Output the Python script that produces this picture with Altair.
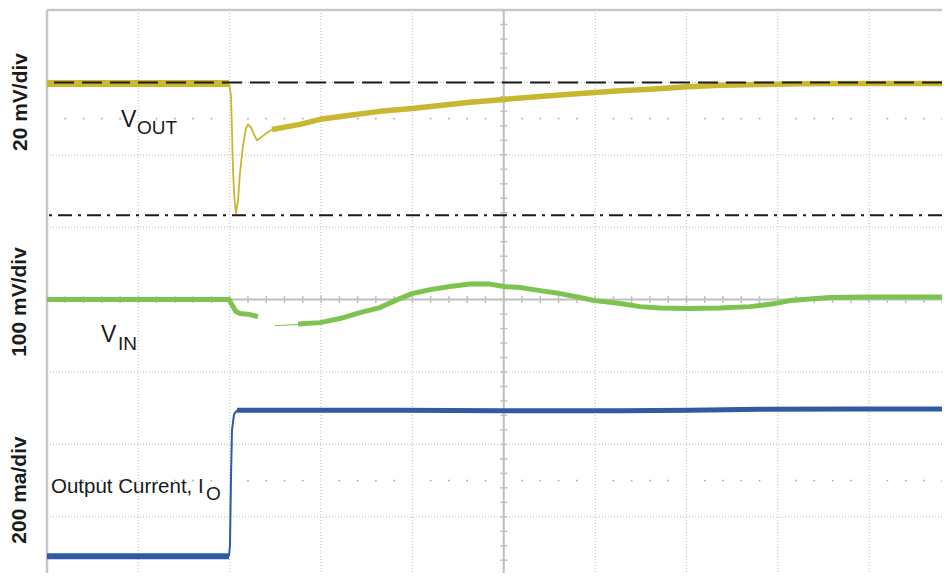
import altair as alt
import numpy as np
import pandas as pd

# ---------------- data (time axis in screen divisions, 10 div full scale) -------------
# V_OUT deviation in mV (20 mV/div)
vout_pre_t = [0.0, 1.992]
vout_pre_mv = [-0.3, -0.3]
vout_tr_t = [1.992, 2.014, 2.025, 2.036, 2.053, 2.069, 2.091, 2.113, 2.146, 2.178,
             2.200, 2.233, 2.266, 2.299, 2.343, 2.397, 2.463]
vout_tr_mv = [-0.3, -3.6, -13.3, -24.3, -32.6, -36.2, -32.6, -24.9, -17.4, -12.7,
              -11.6, -12.4, -14.4, -16.0, -15.2, -14.1, -13.0]
vout_set_t = [2.463, 2.770, 2.989, 3.317, 3.645, 3.996, 4.302, 4.630, 5.003, 5.397,
              5.725, 5.999, 6.273, 6.601, 7.006, 7.367, 7.805, 8.243, 8.790, 9.338, 9.885]
vout_set_mv = [-13.0, -11.6, -10.2, -9.1, -8.0, -7.2, -6.4, -5.5, -4.7, -3.9,
               -3.3, -2.8, -2.3, -1.9, -1.2, -0.8, -0.6, -0.4, -0.3, -0.3, -0.3]
vout_ref_mv = [0.0, -36.7]          # nominal level and minimum marker

# V_IN deviation in mV (100 mV/div)
vin_a_t = [0.0, 1.992, 2.036, 2.069, 2.113, 2.222, 2.310]
vin_a_mv = [0.0, 0.0, -9.7, -16.6, -19.3, -20.7, -23.5]
vin_b_t = [2.496, 2.748]
vin_b_mv = [-35.9, -34.5]
vin_c_t = [2.748, 2.989, 3.207, 3.426, 3.645, 3.810, 3.996, 4.193, 4.412, 4.630,
           4.849, 5.003, 5.178, 5.397, 5.616, 5.835, 5.999, 6.273, 6.492, 6.711,
           7.006, 7.367, 7.696, 7.969, 8.134, 8.353, 8.571, 9.009, 9.447, 9.885]
vin_c_mv = [-33.8, -31.8, -26.2, -18.0, -11.0, -1.4, 8.3, 13.8, 18.0, 21.4,
            21.4, 18.0, 16.6, 12.4, 8.3, 2.8, -1.4, -5.5, -9.7, -11.7,
            -12.4, -11.7, -9.7, -5.5, -1.4, 0.7, 2.8, 3.5, 3.5, 3.5]

# Output current in mA (200 mA/div)
io_pre_t = [0.0, 1.992]
io_pre_ma = [0.0, 0.0]
io_edge_t = [1.992, 2.003, 2.014, 2.025, 2.047, 2.080]
io_edge_ma = [0.0, 30.0, 215.0, 348.0, 392.0, 403.0]
io_post_t = [2.080, 3.864, 4.959, 6.273, 7.039, 7.805, 8.900, 9.885]
io_post_ma = [403.0, 403.0, 402.0, 402.0, 403.0, 406.0, 407.0, 407.0]

labels_axis = ["20 mV/div", "100 mV/div", "200 ma/div"]

# ---------------- styling ----------------
YELLOW = "#c9b731"
GREEN = "#7cc44f"
BLUE = "#2f5aa6"
GRID = "#c4c4c4"
AXIS = "#c0c0c0"
FONT = "Liberation Sans"

W, H = 895, 563
PX_X, PX_Y = 91.35, 72.4
xs = alt.Scale(domain=[0, W / PX_X], nice=False, zero=False)
ys = alt.Scale(domain=[8.0 - H / PX_Y, 8.0], nice=False, zero=False)


def seg(t, v, name, w):
    return pd.DataFrame({"t": t, "v": v, "seg": name, "w": w})


vout_df = pd.concat([seg(vout_pre_t, vout_pre_mv, "pre", 7),
                     seg(vout_tr_t, vout_tr_mv, "tr", 1.8),
                     seg(vout_set_t, vout_set_mv, "set", 5.5)])
vin_df = pd.concat([seg(vin_a_t, vin_a_mv, "a", 5),
                    seg(vin_b_t, vin_b_mv, "b", 1),
                    seg(vin_c_t, vin_c_mv, "c", 5)])
io_df = pd.concat([seg(io_pre_t, io_pre_ma, "pre", 6),
                   seg(io_edge_t, io_edge_ma, "edge", 2),
                   seg(io_post_t, io_post_ma, "post", 5)])


def trace(df, color, expr):
    return alt.Chart(df).transform_calculate(y=expr).mark_line(
        color=color, strokeCap="butt", strokeJoin="round", clip=True
    ).encode(
        x=alt.X("t:Q", scale=xs, axis=None),
        y=alt.Y("y:Q", scale=ys, axis=None),
        detail="seg:N",
        strokeWidth=alt.StrokeWidth("w:Q", scale=None, legend=None),
        order="t:Q",
    )


# ---------------- grid ----------------
vgrid = alt.Chart(pd.DataFrame({"x": list(range(1, 10))})).mark_rule(
    color=GRID, strokeDash=[1, 2], strokeWidth=1.2
).encode(x=alt.X("x:Q", scale=xs, axis=None))
hgrid = alt.Chart(pd.DataFrame({"y": list(range(1, 8))})).mark_rule(
    color=GRID, strokeDash=[1, 2], strokeWidth=1.2
).encode(y=alt.Y("y:Q", scale=ys, axis=None))

left_border = alt.Chart(pd.DataFrame({"x": [0.0]})).mark_rule(
    color="#c8c8c8", strokeWidth=2.5).encode(x=alt.X("x:Q", scale=xs, axis=None))
top_border = alt.Chart(pd.DataFrame({"y": [8.0]})).mark_rule(
    color="#c8c8c8", strokeWidth=2.5).encode(y=alt.Y("y:Q", scale=ys, axis=None))

center_v = alt.Chart(pd.DataFrame({"x": [5.0]})).mark_rule(
    color=AXIS, strokeWidth=2).encode(x=alt.X("x:Q", scale=xs, axis=None))
center_h = alt.Chart(pd.DataFrame({"y": [4.0]})).mark_rule(
    color=AXIS, strokeWidth=2).encode(y=alt.Y("y:Q", scale=ys, axis=None))

minor_y = [round(v, 2) for v in np.arange(0.4, 8.0, 0.2)]
minor_x = [round(v, 2) for v in np.arange(0.2, 9.8, 0.2)]

vticks = alt.Chart(pd.DataFrame({"y": minor_y, "cx": 5.0})).mark_rule(
    color=AXIS, strokeWidth=1.5, xOffset=-3.5, x2Offset=3.5
).encode(x=alt.X("cx:Q", scale=xs, axis=None), x2="cx:Q",
         y=alt.Y("y:Q", scale=ys, axis=None))
hticks = alt.Chart(pd.DataFrame({"x": minor_x, "cy": 4.0})).mark_rule(
    color=AXIS, strokeWidth=1.5, yOffset=-3.5, y2Offset=3.5
).encode(y=alt.Y("cy:Q", scale=ys, axis=None), y2="cy:Q",
         x=alt.X("x:Q", scale=xs, axis=None))

dot_x = [v for v in minor_x if abs(v - round(v)) > 0.01]
dots_df = pd.DataFrame([(x, yy) for yy in (1.5, 6.5) for x in dot_x], columns=["x", "y"])
dots = alt.Chart(dots_df).mark_square(size=2.5, color="#a8a8a8", opacity=1).encode(
    x=alt.X("x:Q", scale=xs, axis=None), y=alt.Y("y:Q", scale=ys, axis=None))

# ---------------- reference lines for V_OUT ----------------
ref_nom = alt.Chart(pd.DataFrame({"v": [vout_ref_mv[0]]})).transform_calculate(
    y="7 + datum.v/20").mark_rule(color="#1a1a1a", strokeWidth=2, strokeDash=[20, 8]
).encode(y=alt.Y("y:Q", scale=ys, axis=None))
ref_min = alt.Chart(pd.DataFrame({"v": [vout_ref_mv[1]]})).transform_calculate(
    y="7 + datum.v/20").mark_rule(color="#1a1a1a", strokeWidth=2, strokeDash=[14, 6, 3, 6]
).encode(y=alt.Y("y:Q", scale=ys, axis=None))

# ---------------- texts ----------------
one = pd.DataFrame({"a": [0]})


def label(txt, x, y, size, weight="normal", angle=0, align="left", baseline="alphabetic"):
    return alt.Chart(one).mark_text(
        text=txt, font=FONT, fontSize=size, fontWeight=weight, angle=angle,
        align=align, baseline=baseline, color="#1a1a1a"
    ).encode(x=alt.value(x), y=alt.value(y))


texts = [
    label(labels_axis[0], -26, 92, 21, "bold", 270, "center", "middle"),
    label(labels_axis[1], -27, 292, 21, "bold", 270, "center", "middle"),
    label(labels_axis[2], -27, 480, 21, "bold", 270, "center", "middle"),
    label("V", 74, 117, 23),
    label("OUT", 90, 124, 19),
    label("V", 54, 332, 23),
    label("IN", 71, 340, 19),
    label("Output Current, I", 4, 483, 20.5),
    label("O", 159, 490, 19),
]

chart = alt.layer(
    vgrid, hgrid, dots, left_border, top_border, center_v, center_h, vticks, hticks,
    trace(io_df, BLUE, "0.455 + datum.v/200"),
    trace(vin_df, GREEN, "4 + datum.v/100"),
    trace(vout_df, YELLOW, "7 + datum.v/20"),
    ref_nom, ref_min,
    *texts,
).properties(
    width=W, height=H,
    autosize=alt.AutoSizeParams(type="none"),
    padding={"left": 39, "top": 2, "right": 0, "bottom": 0},
    background="white",
).configure_view(strokeWidth=0)

chart.save("out.html", embed_options={"renderer": "svg", "actions": False})
